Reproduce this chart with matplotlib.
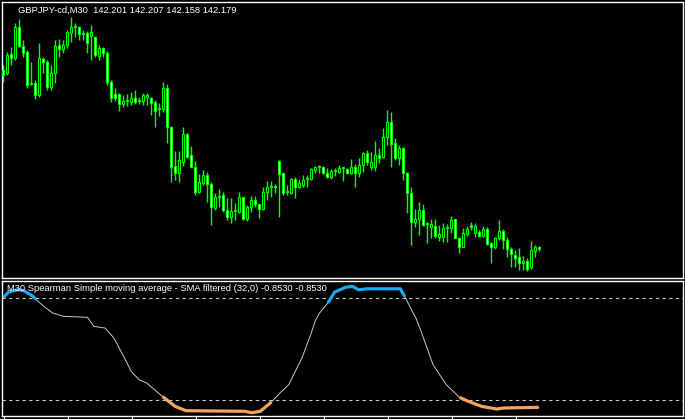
import matplotlib
matplotlib.use('Agg')
import matplotlib.pyplot as plt
import numpy as np

# GBPJPY M30 candles, oldest first
opens = [143.97, 143.94, 144.13, 144.09, 144.40, 144.21, 144.15, 143.83, 143.84, 143.72,
         144.08, 144.05, 143.80, 143.94, 144.22, 144.18, 144.22, 144.34, 144.40, 144.40,
         144.33, 144.34, 144.31, 144.30, 144.11, 144.19, 144.14, 143.85, 143.73, 143.73,
         143.63, 143.66, 143.65, 143.69, 143.66, 143.66, 143.70, 143.69, 143.65, 143.58,
         143.58, 143.79, 143.40, 143.01, 142.94, 143.05, 143.33, 143.12, 143.00, 142.75,
         142.84, 142.92, 142.83, 142.59, 142.70, 142.72, 142.57, 142.50, 142.56, 142.55,
         142.70, 142.48, 142.60, 142.67, 142.63, 142.58, 142.75, 142.80, 142.80, 143.06,
         142.94, 142.75, 142.74, 142.88, 142.80, 142.82, 142.88, 142.88, 142.97, 143.00,
         143.00, 142.94, 142.90, 142.96, 142.95, 142.99, 142.98, 142.94, 143.00, 142.94,
         143.02, 143.14, 143.00, 143.00, 143.12, 143.10, 143.30, 143.45, 143.24, 143.09,
         143.19, 142.94, 142.74, 142.45, 142.48, 142.57, 142.43, 142.40, 142.41, 142.30,
         142.30, 142.39, 142.39, 142.48, 142.29, 142.20, 142.33, 142.42, 142.34, 142.35,
         142.31, 142.38, 142.24, 142.20, 142.29, 142.36, 142.27, 142.18, 142.12, 142.10,
         142.04, 142.06, 142.00, 142.16, 142.201]
highs = [144.02, 144.15, 144.20, 144.44, 144.48, 144.27, 144.17, 144.05, 143.87, 144.24,
         144.10, 144.07, 144.02, 144.27, 144.28, 144.27, 144.37, 144.50, 144.44, 144.41,
         144.37, 144.36, 144.42, 144.31, 144.22, 144.20, 144.16, 143.87, 143.79, 143.74,
         143.72, 143.73, 143.75, 143.77, 143.70, 143.74, 143.74, 143.70, 143.67, 143.64,
         143.85, 143.83, 143.41, 143.16, 143.16, 143.40, 143.34, 143.21, 143.06, 142.93,
         142.97, 142.95, 142.85, 142.74, 142.78, 142.75, 142.69, 142.69, 142.64, 142.75,
         142.70, 142.62, 142.71, 142.71, 142.63, 142.80, 142.86, 142.86, 142.83, 143.07,
         142.94, 142.82, 142.89, 142.90, 142.88, 142.92, 142.92, 142.99, 143.01, 143.02,
         143.01, 142.99, 142.98, 142.99, 143.02, 143.00, 142.99, 143.08, 143.03, 143.09,
         143.15, 143.17, 143.15, 143.26, 143.19, 143.39, 143.57, 143.55, 143.29, 143.22,
         143.20, 142.95, 142.80, 142.58, 142.65, 142.63, 142.45, 142.48, 142.48, 142.42,
         142.44, 142.43, 142.51, 142.48, 142.30, 142.39, 142.41, 142.45, 142.44, 142.37,
         142.41, 142.40, 142.25, 142.30, 142.47, 142.38, 142.30, 142.20, 142.17, 142.19,
         142.11, 142.09, 142.26, 142.22, 142.207]
lows = [143.85, 143.92, 144.02, 144.07, 144.20, 144.10, 143.79, 143.82, 143.68, 143.70,
        143.94, 143.77, 143.77, 143.84, 144.10, 144.14, 144.19, 144.25, 144.30, 144.27,
        144.27, 144.14, 144.07, 144.10, 144.07, 144.10, 143.82, 143.65, 143.66, 143.56,
        143.60, 143.61, 143.62, 143.63, 143.63, 143.62, 143.62, 143.52, 143.40, 143.51,
        143.55, 143.24, 142.85, 142.87, 142.85, 143.01, 143.09, 143.00, 142.72, 142.74,
        142.82, 142.65, 142.42, 142.57, 142.60, 142.55, 142.47, 142.44, 142.47, 142.54,
        142.47, 142.46, 142.55, 142.60, 142.49, 142.57, 142.67, 142.70, 142.74, 142.50,
        142.72, 142.72, 142.73, 142.69, 142.79, 142.80, 142.80, 142.87, 142.94, 142.94,
        142.93, 142.89, 142.88, 142.91, 142.94, 142.86, 142.93, 142.93, 142.80, 142.90,
        142.95, 143.02, 142.97, 142.96, 143.04, 143.09, 143.22, 143.00, 143.07, 143.02,
        142.87, 142.54, 142.22, 142.40, 142.32, 142.41, 142.24, 142.29, 142.29, 142.26,
        142.25, 142.25, 142.34, 142.29, 142.14, 142.20, 142.31, 142.37, 142.30, 142.30,
        142.30, 142.22, 142.04, 142.18, 142.27, 142.18, 142.10, 142.00, 142.00, 141.97,
        141.97, 141.96, 141.98, 142.10, 142.158]
closes = [143.92, 144.12, 144.09, 144.40, 144.21, 144.14, 143.82, 143.84, 143.72, 144.09,
          144.05, 143.80, 143.94, 144.21, 144.18, 144.22, 144.35, 144.40, 144.41, 144.33,
          144.34, 144.24, 144.35, 144.12, 144.19, 144.14, 143.85, 143.69, 143.69, 143.63,
          143.66, 143.67, 143.69, 143.65, 143.67, 143.72, 143.72, 143.64, 143.56, 143.59,
          143.79, 143.40, 143.00, 142.94, 143.07, 143.33, 143.10, 143.00, 142.75, 142.85,
          142.92, 142.83, 142.60, 142.70, 142.71, 142.57, 142.50, 142.56, 142.57, 142.70,
          142.48, 142.60, 142.67, 142.63, 142.58, 142.75, 142.80, 142.81, 142.81, 142.93,
          142.74, 142.76, 142.88, 142.80, 142.84, 142.87, 142.89, 142.98, 143.00, 143.01,
          142.94, 142.90, 142.96, 142.97, 142.99, 143.00, 142.94, 143.00, 142.94, 143.02,
          143.14, 143.05, 143.05, 143.12, 143.09, 143.30, 143.45, 143.23, 143.09, 143.19,
          142.94, 142.74, 142.45, 142.48, 142.57, 142.42, 142.44, 142.43, 142.31, 142.33,
          142.39, 142.40, 142.47, 142.29, 142.20, 142.34, 142.38, 142.40, 142.41, 142.31,
          142.38, 142.23, 142.20, 142.29, 142.36, 142.27, 142.18, 142.13, 142.09, 142.04,
          142.06, 141.98, 142.17, 142.20, 142.179]

# Spearman SMA filtered (32,0), read at points along the curve
ind_bar = [0.2, 1.5, 3.7, 5.3, 7.6, 8.1, 10.3, 12.5, 15.2, 21.2, 22.8, 25.6, 27.8, 28.9,
           31.1, 32.1, 34.1, 36, 40, 43.1, 45.8, 60.6, 62.2, 64.4, 67.2, 69.3, 71.5, 74.8,
           77, 78.1, 79.2, 81.3, 83, 85.7, 87.4, 89, 91.2, 99.4, 100.5, 102.2, 103.3, 104.3,
           107.6, 110.9, 114.2, 116.4, 119.7, 123.5, 125.1, 134]
ind_val = [0.760, 0.838, 0.872, 0.857, 0.775, 0.740, 0.628, 0.530, 0.482, 0.467, 0.335,
           0.310, 0.164, 0.042, -0.203, -0.325, -0.448, -0.496, -0.697, -0.838, -0.902,
           -0.911, -0.932, -0.911, -0.775, -0.643, -0.521, -0.130, 0.212, 0.408, 0.530,
           0.677, 0.838, 0.907, 0.922, 0.872, 0.886, 0.886, 0.775, 0.578, 0.457, 0.310,
           -0.228, -0.521, -0.706, -0.765, -0.838, -0.878, -0.863, -0.853]
ind_state = [1, 1, 1, 1, 1, 1, 0, 0, 0, 0, 0, 0, 0, 0, 0, 0, 0, 0, -1, -1, -1, -1, -1, -1,
             -1, 0, 0, 0, 0, 0, 0, 1, 1, 1, 1, 1, 1, 1, 1, 0, 0, 0, 0, 0, -1, -1, -1, -1,
             -1, -1]
levels = [0.75, -0.75]

title = 'GBPJPY-cd,M30  142.201 142.207 142.158 142.179'
ind_label = 'M30 Spearman Simple moving average - SMA filtered (32,0) -0.8530 -0.8530'

W, H = 685, 419
fig = plt.figure(figsize=(W / 100, H / 100), dpi=100, facecolor='black')
ax = fig.add_axes([2 / W, 1 - 278 / H, 681 / W, 276 / H], facecolor='black')
ax2 = fig.add_axes([2 / W, 1 - 416 / H, 681 / W, 135 / H], facecolor='black')

o = np.array(opens); h = np.array(highs); l = np.array(lows); c = np.array(closes)
x = np.arange(len(c))
fill = np.where(c < o, 'white', 'black')
ax.vlines(x, l, h, color='#00FF00', lw=1, zorder=2)
ax.bar(x, c - o, bottom=o, width=0.5, color=fill, edgecolor='#00FF00', lw=0.8, zorder=3)
ax.set_xlim(-0.175, 170.08)
ax.set_ylim(141.89, 144.65)

ib = np.array(ind_bar); iv = np.array(ind_val); st = np.array(ind_state)
ax2.plot(ib, iv, color='#c8c8c8', lw=0.7, zorder=2)
i = 0
while i < len(st):
    j = i
    while j + 1 < len(st) and st[j + 1] == st[i]:
        j += 1
    if st[i] != 0 and j > i:
        col = '#1ca9f0' if st[i] > 0 else '#f4a460'
        ax2.plot(ib[i:j + 1], iv[i:j + 1], color=col, lw=2.3, solid_capstyle='butt', zorder=3)
    i = j + 1
for lv in levels:
    ax2.axhline(lv, color='#c8c8c8', lw=0.8, ls=(0, (3, 3)), zorder=1)
ax2.set_xlim(-0.175, 170.08)
ax2.set_ylim(-0.98, 1.0)

for a in (ax, ax2):
    for s in a.spines.values():
        s.set_color('white')
        s.set_linewidth(1)
    a.set_yticks([])
ax.set_xticks([])
ax2.set_xticks(np.arange(0.3, 130, 16))
ax2.tick_params(axis='x', direction='out', length=2.5, color='white', labelbottom=False)

fig.text(18 / W, 1 - 10.5 / H, title, color='white', fontsize=6.75, va='center', family='Liberation Sans')
fig.text(7 / W, 1 - 288.5 / H, ind_label, color='white', fontsize=6.75, va='center', family='Liberation Sans')

fig.savefig('out.png', dpi=100, facecolor='black')
